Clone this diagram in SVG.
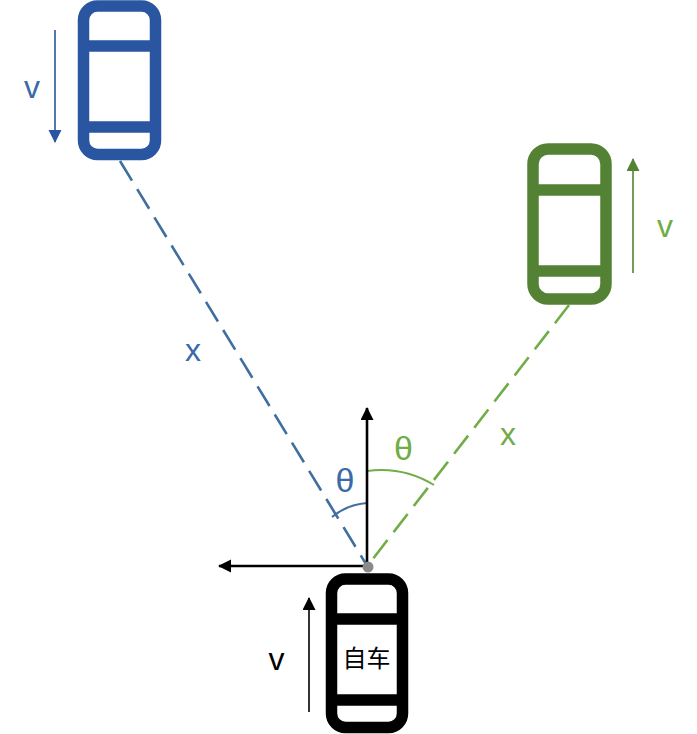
<svg xmlns="http://www.w3.org/2000/svg" width="697" height="734" viewBox="0 0 697 734">
<style>
.car{fill:none;stroke-width:11.5}
.bar{stroke-width:11.5}
.lbl{font-family:"Liberation Sans","Noto Sans",sans-serif;font-size:32px;text-anchor:middle}
.th{font-size:34px}
.dash{fill:none;stroke-width:2.6;stroke-dasharray:23 10}
.arc{fill:none;stroke-width:2}
</style>
<defs>
<marker id="ahBlue" markerUnits="userSpaceOnUse" markerWidth="14" markerHeight="14" refX="12" refY="6.5" orient="auto"><path d="M0,0 L13,6.5 L0,13 Z" fill="#2A55A0"/></marker>
<marker id="ahGreen" markerUnits="userSpaceOnUse" markerWidth="14" markerHeight="14" refX="12" refY="6.5" orient="auto"><path d="M0,0 L13,6.5 L0,13 Z" fill="#548235"/></marker>
<marker id="ahBlack" markerUnits="userSpaceOnUse" markerWidth="14" markerHeight="14" refX="12" refY="6.5" orient="auto"><path d="M0,0 L13,6.5 L0,13 Z" fill="#000"/></marker>
</defs>
<rect width="697" height="734" fill="#fff"/>

<g id="connectors">
<line class="dash" x1="120" y1="161" x2="366" y2="564" stroke="#3F6F9E"/>
<line class="dash" x1="569" y1="305" x2="369" y2="564" stroke="#70AD47"/>
<path class="arc" d="M367,503 A62,62 0 0 0 332,517" stroke="#3F6F9E"/>
<path class="arc" d="M367,471 A102,102 0 0 1 434,485" stroke="#70AD47"/>
<line x1="367" y1="567" x2="367" y2="408" stroke="#000" stroke-width="2.6" marker-end="url(#ahBlack)"/>
<line x1="367" y1="566" x2="219" y2="566" stroke="#000" stroke-width="2.6" marker-end="url(#ahBlack)"/>
<circle cx="368" cy="567" r="5.5" fill="#8a8a8a"/>
<line x1="55" y1="30" x2="55" y2="142" stroke="#2A55A0" stroke-width="1.6" marker-end="url(#ahBlue)"/>
<line x1="633" y1="273" x2="633" y2="159" stroke="#548235" stroke-width="1.6" marker-end="url(#ahGreen)"/>
<line x1="309" y1="712" x2="309" y2="598" stroke="#000" stroke-width="1.6" marker-end="url(#ahBlack)"/>
</g>

<g id="blue-car">
<rect class="car" x="83.5" y="6" width="72" height="148.5" rx="14" stroke="#2A55A0"/>
<line class="bar" x1="83.5" y1="46" x2="155.5" y2="46" stroke="#2A55A0"/>
<line class="bar" x1="83.5" y1="127" x2="155.5" y2="127" stroke="#2A55A0"/>
</g>

<g id="green-car">
<rect class="car" x="533" y="149" width="73" height="150" rx="15" stroke="#548235" stroke-width="12.5"/>
<line class="bar" x1="533" y1="190" x2="606" y2="190" stroke="#548235" stroke-width="13"/>
<line class="bar" x1="533" y1="271" x2="606" y2="271" stroke="#548235" stroke-width="12"/>
</g>

<g id="ego-car">
<rect class="car" x="331.5" y="579" width="71" height="148.5" rx="14" stroke="#000"/>
<line class="bar" x1="331.5" y1="619" x2="402.5" y2="619" stroke="#000"/>
<line class="bar" x1="331.5" y1="700" x2="402.5" y2="700" stroke="#000"/>
<text x="366.5" y="667" font-family="'Noto Sans CJK SC','Noto Sans CJK JP',sans-serif" font-size="24" text-anchor="middle" fill="#000">自车</text>
</g>

<g id="labels">
<text class="lbl" x="32" y="98" fill="#3A6AA8">v</text>
<text class="lbl" x="193" y="361" fill="#3A6AA8">x</text>
<text class="lbl th" x="345" y="492" fill="#3A6AA8">θ</text>
<text class="lbl th" x="403.5" y="460" fill="#70AD47">θ</text>
<text class="lbl" x="508" y="445" fill="#70AD47">x</text>
<text class="lbl" x="665" y="237" fill="#70AD47">v</text>
<text class="lbl" x="276.5" y="670" fill="#000">v</text>
</g>
</svg>
